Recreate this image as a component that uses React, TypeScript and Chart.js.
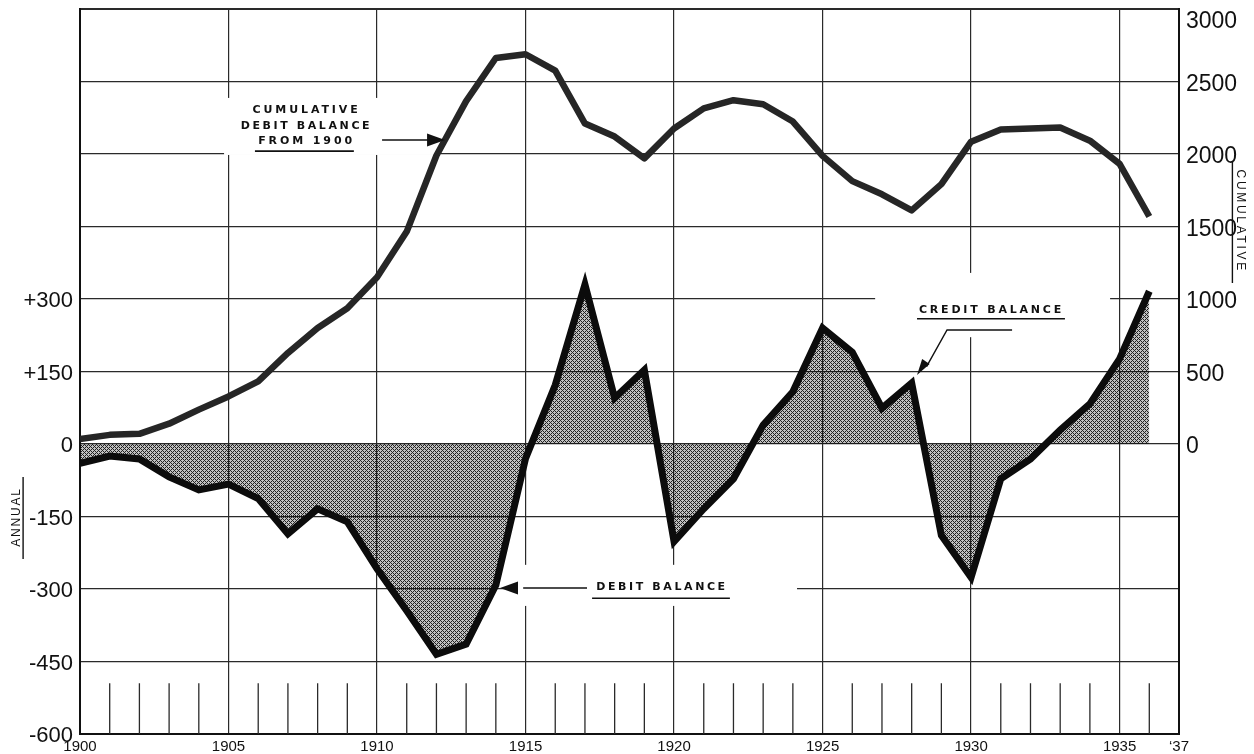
import React, { useEffect, useRef } from 'react';
import { Chart, registerables } from 'chart.js';

Chart.register(...registerables);

// ---------------- data ----------------
const YEARS = [
  1900, 1901, 1902, 1903, 1904, 1905, 1906, 1907, 1908, 1909,
  1910, 1911, 1912, 1913, 1914, 1915, 1916, 1917, 1918, 1919,
  1920, 1921, 1922, 1923, 1924, 1925, 1926, 1927, 1928, 1929,
  1930, 1931, 1932, 1933, 1934, 1935, 1936,
];
// annual balance (left scale)
const ANNUAL = [
  -40, -25, -31, -68, -95, -83, -113, -186, -134, -161,
  -258, -345, -435, -414, -292, -30, 122, 330, 95, 153,
  -202, -134, -72, 39, 108, 240, 190, 74, 126, -189,
  -276, -72, -31, 29, 83, 176, 316,
];
// cumulative debit balance from 1900 (right scale)
const CUMULATIVE = [
  35, 63, 70, 140, 237, 328, 432, 628, 800, 936,
  1150, 1465, 1990, 2365, 2662, 2688, 2575, 2210, 2120, 1970,
  2176, 2315, 2371, 2343, 2224, 1987, 1813, 1722, 1611, 1792,
  2085, 2169, 2176, 2183, 2092, 1932, 1569,
];
const X_TICKS = [1900, 1905, 1910, 1915, 1920, 1925, 1930, 1935, 1937];
const LEFT_TICKS = [300, 150, 0, -150, -300, -450, -600];
const RIGHT_TICKS = [0, 500, 1000, 1500, 2000, 2500, 3000];

const NOTE_CUMULATIVE = ['CUMULATIVE', 'DEBIT BALANCE', 'FROM 1900'];
const NOTE_DEBIT = 'DEBIT BALANCE';
const NOTE_CREDIT = 'CREDIT BALANCE';
const TITLE_LEFT = 'ANNUAL';
const TITLE_RIGHT = 'CUMULATIVE';

const INK = '#111';
const GRID = '#2a2a2a';
const NOTE_FONT = 'bold 11px "DejaVu Sans", sans-serif';
const TICK_FAMILY = '"Liberation Sans", Arial, sans-serif';

function makeHatch(): CanvasPattern | string {
  const c = document.createElement('canvas');
  c.width = 4;
  c.height = 4;
  const g = c.getContext('2d');
  if (!g) return '#888';
  const img = g.createImageData(4, 4);
  for (let j = 0; j < 4; j++) {
    for (let i = 0; i < 4; i++) {
      const k = (j * 4 + i) * 4;
      const dark = (i + j) % 4 === 0 || (i - j + 4) % 4 === 0;
      img.data[k] = img.data[k + 1] = img.data[k + 2] = dark ? 20 : 0;
      img.data[k + 3] = dark ? 240 : 62;
    }
  }
  g.putImageData(img, 0, 0);
  return g.createPattern(c, 'repeat') || '#888';
}

const overlay = {
  id: 'overlay',
  beforeDatasetsDraw(chart: any) {
    const { ctx, scales } = chart;
    const X = (v: number) => scales.x.getPixelForValue(v);
    const Y = (v: number) => scales.yL.getPixelForValue(v);
    ctx.save();
    // clear grid behind annotation labels (as in the drawing)
    ctx.fillStyle = '#fff';
    const box = (x0: number, x1: number, y0: number, y1: number) =>
      ctx.fillRect(X(x0), Y(y0), X(x1) - X(x0), Y(y1) - Y(y0));
    box(1904.85, 1912.15, 716, 598);
    box(1914.71, 1924.14, -250, -335);
    box(1926.77, 1934.68, 354, 221);
    // short year ticks along the bottom
    ctx.strokeStyle = GRID;
    ctx.lineWidth = 1.3;
    for (const yr of YEARS) {
      if (yr % 5 === 0) continue;
      ctx.beginPath();
      ctx.moveTo(X(yr), Y(-495));
      ctx.lineTo(X(yr), Y(-600));
      ctx.stroke();
    }
    ctx.restore();
  },
  afterDatasetsDraw(chart: any) {
    const { ctx, scales, chartArea } = chart;
    const X = (v: number) => scales.x.getPixelForValue(v);
    const Y = (v: number) => scales.yL.getPixelForValue(v);
    ctx.save();
    ctx.fillStyle = INK;
    ctx.strokeStyle = INK;

    const text = (s: string, cx: number, cy: number, font: string, spacing: number) => {
      ctx.font = font;
      (ctx as any).letterSpacing = spacing + 'px';
      ctx.textAlign = 'center';
      ctx.textBaseline = 'middle';
      ctx.fillText(s, cx + spacing / 2, cy);
    };
    const line = (pts: number[][], w: number) => {
      ctx.lineWidth = w;
      ctx.beginPath();
      ctx.moveTo(pts[0][0], pts[0][1]);
      for (let i = 1; i < pts.length; i++) ctx.lineTo(pts[i][0], pts[i][1]);
      ctx.stroke();
    };
    const arrow = (tx: number, ty: number, fx: number, fy: number, len: number, half: number) => {
      const dx = tx - fx, dy = ty - fy;
      const L = Math.hypot(dx, dy);
      const ux = dx / L, uy = dy / L;
      const bx = tx - ux * len, by = ty - uy * len;
      ctx.beginPath();
      ctx.moveTo(tx, ty);
      ctx.lineTo(bx - uy * half, by + ux * half);
      ctx.lineTo(bx + uy * half, by - ux * half);
      ctx.closePath();
      ctx.fill();
    };

    // Cumulative label
    const cx1 = X(1907.58);
    text(NOTE_CUMULATIVE[0], cx1, Y(690), NOTE_FONT, 2.9);
    text(NOTE_CUMULATIVE[1], cx1, Y(657), NOTE_FONT, 2.6);
    text(NOTE_CUMULATIVE[2], cx1, Y(626), NOTE_FONT, 2.9);
    line([[X(1905.89), Y(606)], [X(1909.22), Y(606)]], 1.6);
    line([[X(1910.17), Y(629)], [X(1911.8), Y(629)]], 1.6);
    arrow(X(1912.29), Y(629), X(1910.17), Y(629), 18, 6.5);

    // Debit balance label
    text(NOTE_DEBIT, X(1919.55), Y(-296), NOTE_FONT, 2.6);
    line([[X(1917.24), Y(-319)], [X(1921.88), Y(-319)]], 1.6);
    line([[X(1914.92), Y(-298)], [X(1917.07), Y(-298)]], 1.6);
    arrow(X(1914.14), Y(-298), X(1917.07), Y(-298), 18, 6.5);

    // Credit balance label
    text(NOTE_CREDIT, X(1930.64), Y(277), NOTE_FONT, 2.8);
    line([[X(1928.18), Y(259)], [X(1933.16), Y(259)]], 1.6);
    line([[X(1931.38), Y(236)], [X(1929.19), Y(236)], [X(1928.5), Y(160)]], 1.4);
    arrow(X(1928.18), Y(143), X(1929.19), Y(236), 16, 4.5);

    // top label of the right scale sits just below the frame
    ctx.font = '23px ' + TICK_FAMILY;
    (ctx as any).letterSpacing = '0px';
    ctx.textAlign = 'left';
    ctx.textBaseline = 'middle';
    ctx.fillText(String(RIGHT_TICKS[RIGHT_TICKS.length - 1]), chartArea.right + 7,
      scales.yR.getPixelForValue(RIGHT_TICKS[RIGHT_TICKS.length - 1]) + 13);

    // axis titles (rotated, underlined)
    ctx.font = '12px "Liberation Sans", Arial, sans-serif';
    (ctx as any).letterSpacing = '1.8px';
    ctx.textAlign = 'center';
    ctx.textBaseline = 'middle';
    ctx.save();
    ctx.translate(chartArea.left - 63.5, Y(-153));
    ctx.rotate(-Math.PI / 2);
    ctx.fillText(TITLE_LEFT, 0.9, 0);
    ctx.lineWidth = 1.4;
    ctx.beginPath();
    ctx.moveTo(-41, 6.6);
    ctx.lineTo(41, 6.6);
    ctx.stroke();
    ctx.restore();

    (ctx as any).letterSpacing = '2.7px';
    ctx.save();
    ctx.translate(chartArea.right + 61, scales.yR.getPixelForValue(1545));
    ctx.rotate(Math.PI / 2);
    ctx.fillText(TITLE_RIGHT, 1.3, 0);
    ctx.lineWidth = 1.4;
    ctx.beginPath();
    ctx.moveTo(-58, 7.6);
    ctx.lineTo(63, 7.6);
    ctx.stroke();
    ctx.restore();

    ctx.restore();
  },
};

export default function App() {
  const ref = useRef<HTMLCanvasElement | null>(null);

  useEffect(() => {
    if (!ref.current) return;
    const hatch = makeHatch();
    const chart = new Chart(ref.current, {
      type: 'line',
      data: {
        datasets: [
          {
            label: 'Annual',
            data: YEARS.map((yr, i) => ({ x: yr, y: ANNUAL[i] })),
            yAxisID: 'yL',
            borderColor: '#0c0c0c',
            borderWidth: 7,
            borderJoinStyle: 'miter',
            borderCapStyle: 'butt',
            backgroundColor: hatch as any,
            fill: 'origin',
            pointRadius: 0,
            tension: 0,
          },
          {
            label: 'Cumulative',
            data: YEARS.map((yr, i) => ({ x: yr, y: CUMULATIVE[i] })),
            yAxisID: 'yR',
            borderColor: '#262626',
            borderWidth: 6.5,
            borderJoinStyle: 'round',
            borderCapStyle: 'butt',
            fill: false,
            pointRadius: 0,
            tension: 0,
          },
        ],
      },
      options: {
        responsive: false,
        animation: false,
        layout: { padding: { top: 9, left: 0, right: 0, bottom: 0 } },
        plugins: {
          legend: { display: false },
          tooltip: { enabled: false },
        },
        scales: {
          x: {
            type: 'linear',
            min: 1900,
            max: 1937,
            afterBuildTicks: (s: any) => {
              s.ticks = X_TICKS.map((v) => ({ value: v }));
            },
            afterFit: (s: any) => {
              s.height = 20;
              s.paddingLeft = 0;
              s.paddingRight = 0;
            },
            ticks: {
              autoSkip: false,
              maxRotation: 0,
              padding: 4,
              color: INK,
              font: { family: TICK_FAMILY, size: 15 },
              callback: (v: any) => (Number(v) === 1937 ? '\u201837' : String(v)),
            },
            grid: {
              color: GRID,
              lineWidth: (c: any) => (c.tick && c.tick.value === 1937 ? 2 : 1.2),
              drawTicks: false,
            },
            border: { display: true, color: INK, width: 2 },
          },
          yL: {
            type: 'linear',
            position: 'left',
            min: -600,
            max: 900,
            afterBuildTicks: (s: any) => {
              const t = [];
              for (let v = -600; v <= 900; v += 150) t.push({ value: v });
              s.ticks = t;
            },
            afterFit: (s: any) => {
              s.width = 80;
              s.paddingTop = 0;
              s.paddingBottom = 0;
            },
            ticks: {
              padding: 7,
              labelOffset: 2,
              color: INK,
              font: { family: TICK_FAMILY, size: 22, lineHeight: 0.9 },
              callback: (v: any) => {
                const n = Number(v);
                if (!LEFT_TICKS.includes(n)) return '';
                return n > 0 ? '+' + n : String(n);
              },
            },
            grid: {
              color: GRID,
              lineWidth: (c: any) => (c.tick && c.tick.value === 900 ? 2 : 1.2),
              drawTicks: false,
            },
            border: { display: true, color: INK, width: 2 },
          },
          yR: {
            type: 'linear',
            position: 'right',
            min: -2000,
            max: 3000,
            afterBuildTicks: (s: any) => {
              const t = [];
              for (let v = -2000; v <= 3000; v += 500) t.push({ value: v });
              s.ticks = t;
            },
            afterFit: (s: any) => {
              s.width = 75;
              s.paddingTop = 0;
              s.paddingBottom = 0;
            },
            ticks: {
              padding: 7,
              labelOffset: 3,
              color: INK,
              font: { family: TICK_FAMILY, size: 23, lineHeight: 0.9 },
              callback: (v: any) => {
                const n = Number(v);
                // the top value is drawn by the overlay, just under the frame
                if (n === RIGHT_TICKS[RIGHT_TICKS.length - 1]) return '';
                return RIGHT_TICKS.includes(n) ? String(n) : '';
              },
            },
            grid: { display: false, drawTicks: false },
            border: { display: true, color: INK, width: 2 },
          },
        },
      },
      plugins: [overlay],
    } as any);
    return () => chart.destroy();
  }, []);

  return (
    <div style={{ position: 'absolute', left: 0, top: 0, width: 1254, height: 754, background: '#fff' }}>
      <canvas ref={ref} width={1254} height={754} style={{ display: 'block' }} />
    </div>
  );
}
